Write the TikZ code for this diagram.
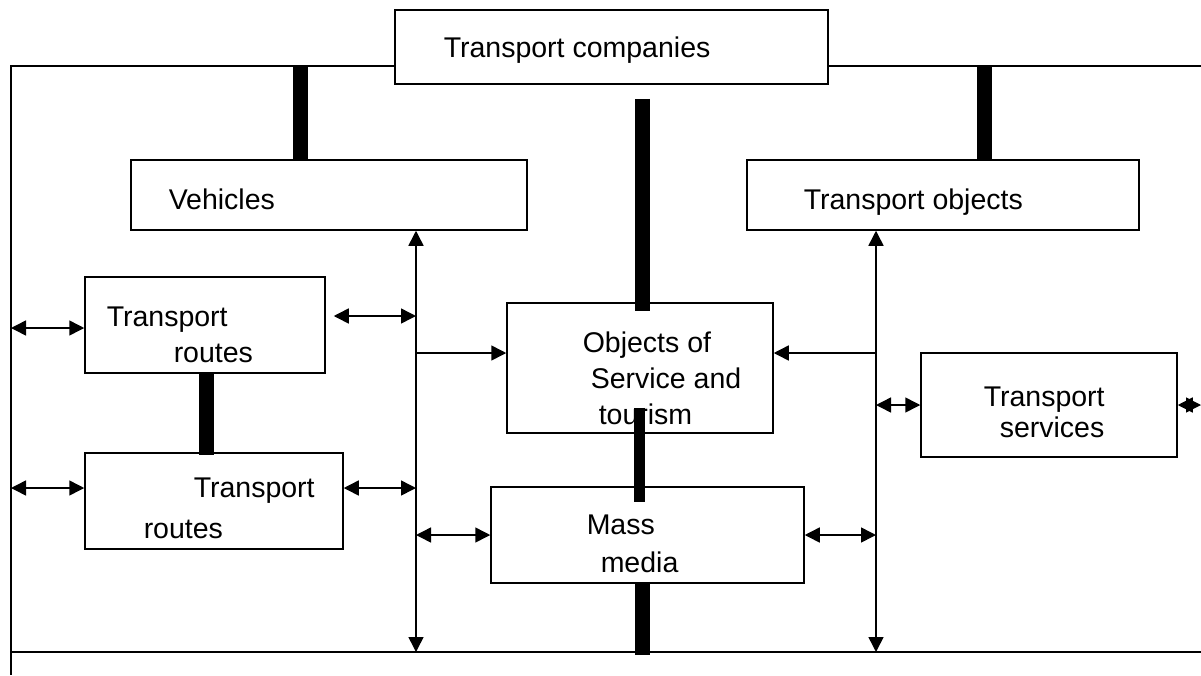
\documentclass[tikz,border=0pt]{standalone}
\usepackage{fontspec}
\setmainfont{Liberation Sans}
\usetikzlibrary{arrows.meta, calc}

\begin{document}
\begin{tikzpicture}[x=1pt, y=-1pt, line width=1.5pt, >={Triangle[length=15pt,width=15pt]},
      box/.style={draw, fill=white, inner sep=0pt},
      txt/.style={anchor=base west, inner sep=0pt, font=\fontsize{28.5}{34}\selectfont},
      bar/.style={line width=15pt}]
      \useasboundingbox (0,0) rectangle (1201,675);
      % frame and buses
      \coordinate (frameTL) at (11,66);
      \coordinate (frameTR) at (1201,66);
      \coordinate (frameBL) at (11,675);
      \coordinate (busL) at (416,652);
      \coordinate (busR) at (876,652);
      \draw (frameBL |- busL) -- (busL -| frameTR);

      \node[box, minimum width=433pt, minimum height=74pt] (comp) at (611.5,47) {};
      \node[box, minimum width=396pt, minimum height=70pt] (veh) at (329,195) {};
      \node[box, minimum width=392pt, minimum height=70pt] (tobj) at (943,195) {};
      \node[box, minimum width=240pt, minimum height=96pt] (route1) at (205,325) {};
      \node[box, minimum width=258pt, minimum height=96pt] (route2) at (214,501) {};
      \node[box, minimum width=266pt, minimum height=130pt] (serv) at (640,368) {};
      \node[box, minimum width=313pt, minimum height=96pt] (media) at (647.5,535) {};
      \node[box, minimum width=256pt, minimum height=104pt] (tserv) at (1049,405) {};

      \draw (comp.west |- frameTL) -- (frameTL) -- (frameBL);
      \draw (comp.east |- frameTL) -- (frameTR);
      \draw[<->] (veh.south -| busL) -- (busL);
      \draw[<->] (tobj.south -| busR) -- (busR);

      \node[txt] (compT) at (443,57) {Transport companies};
      \node[txt] (vehT) at (168,209) {Vehicles};
      \node[txt] (tobjT) at (803,209) {Transport objects};
      \node[txt] (r1a) at (106,326) {Transport};
      \node[txt] (r1b) at (173,362) {routes};
      \node[txt] (r2a) at (193,497) {Transport};
      \node[txt] (r2b) at (143,538) {routes};
      \node[txt] (sa) at (582,352) {Objects of};
      \node[txt] (sb) at (590,388) {Service and};
      \node[txt] (sc) at (598,424) {tourism};
      \node[txt] (ma) at (586,534) {Mass};
      \node[txt] (mb) at (600,572) {media};
      \node[txt] (ta) at (983,406) {Transport};
      \node[txt] (tb) at (999,437) {services};

      % links
      \path ($(route1.west)+(0,3)$) coordinate (r1w)
            ($(route1.east)+(8,-9)$) coordinate (r1e)
            ($(route2.west)+(0,-13)$) coordinate (r2w)
            ($(route2.east)+(0,-13)$) coordinate (r2e)
            ($(serv.west)+(0,-15)$) coordinate (sw)
            ($(serv.east)+(0,-15)$) coordinate (se);
      \draw[<->] (r1w) -- (r1w -| frameTL);
      \draw[<->] (r1e) -- (r1e -| busL);
      \draw[<->] (r2w) -- (r2w -| frameTL);
      \draw[<->] (r2e) -- (r2e -| busL);
      \draw[->] (sw -| busL) -- (sw);
      \draw[->] (se -| busR) -- (se);
      \draw[<->] (media.west -| busL) -- (media.west);
      \draw[<->] (media.east) -- (media.east -| busR);
      \draw[<->] (tserv.west -| busR) -- (tserv.west);
      \draw[<->] (tserv.east) -- (tserv.east -| frameTR);

      % thick bars
      \draw[bar] ($(veh.north)+(-29,0)$) -- ++(0,-94);
      \draw[bar] ($(tobj.north)+(41,0)$) -- ++(0,-94);
      \draw[bar] ($(comp.south)+(30.5,14)$) -- ($(serv.north)+(2,9)$);
      \draw[bar] ($(route1.south)+(1,0)$) -- ($(route2.north)+(-8,3)$);
      \draw[bar, line width=11pt] ($(serv.south)+(-0.5,-26)$) -- ($(media.north)+(-8,16)$);
      \draw[bar] ($(media.south)+(-5,-2)$) -- ++(0,73);
\end{tikzpicture}
\end{document}
